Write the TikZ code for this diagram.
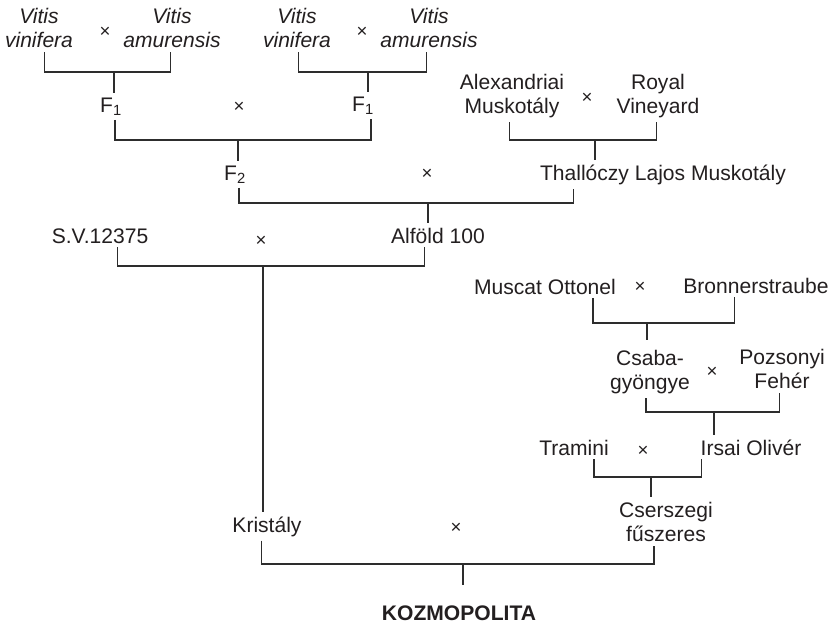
\documentclass[tikz,border=0pt]{standalone}
\usepackage{fontspec}
\setmainfont{Liberation Sans}
\definecolor{ink}{RGB}{35,31,32}
\definecolor{wire}{RGB}{45,45,45}
\begin{document}
\begin{tikzpicture}[x=0.75pt,y=-0.75pt,
  every node/.style={text=ink, inner xsep=0pt, inner ysep=3pt},
  variety/.style={font=\fontsize{15.8}{18.6}\selectfont, anchor=base},
  twoline/.style={variety, text width=110pt, align=center},
  crossmark/.style={font=\fontsize{14}{16}\selectfont, inner sep=0pt},
  link/.style={draw=wire, line width=0.95pt},
]
\path[fill=white, use as bounding box] (0,0) rectangle (832,625);

% ---- varieties (positioned on the first baseline) ----
\node[twoline] (vv1) at (39,23)  {\itshape Vitis\\vinifera};
\node[twoline] (va1) at (172,23) {\itshape Vitis\\amurensis};
\node[twoline] (vv2) at (297,23) {\itshape Vitis\\vinifera};
\node[twoline] (va2) at (429,23) {\itshape Vitis\\amurensis};
\node[variety] (f1a) at (111,112) {F\textsubscript{1}};
\node[variety] (f1b) at (363,111) {F\textsubscript{1}};
\node[twoline] (alex)  at (512,89) {Alexandriai\\Muskotály};
\node[twoline] (royal) at (658,89) {Royal\\Vineyard};
\node[variety] (f2)   at (235,180) {F\textsubscript{2}};
\node[variety] (thal) at (663,180) {Thallóczy Lajos Muskotály};
\node[variety] (sv)   at (100,243) {S.V.12375};
\node[variety] (alf)  at (438,243) {Alföld 100};
\node[variety] (musc) at (545,294) {Muscat Ottonel};
\node[variety] (bron) at (756,293) {Bronnerstraube};
\node[twoline] (csaba) at (650,365) {Csaba-\\gyöngye};
\node[twoline] (pozs)  at (782,364) {Pozsonyi\\Fehér};
\node[variety] (tram)  at (574,455) {Tramini};
\node[variety] (irsai) at (751,455) {Irsai Olivér};
\node[twoline] (cser)  at (666,517) {Cserszegi\\fűszeres};
\node[variety] (krist) at (267,532) {Kristály};
\node[variety] (kozmo) at (459,620) {\bfseries KOZMOPOLITA};

% ---- cross signs ----
\node[crossmark] (c1)  at (105,32)  {×};
\node[crossmark] (c2)  at (362,32)  {×};
\node[crossmark] (c3)  at (239,107) {×};
\node[crossmark] (c4)  at (587,98)  {×};
\node[crossmark] (c5)  at (427,174) {×};
\node[crossmark] (c6)  at (261,241) {×};
\node[crossmark] (c7)  at (640,287) {×};
\node[crossmark] (c8)  at (712,372) {×};
\node[crossmark] (c9)  at (643,451) {×};
\node[crossmark] (c10) at (456,528) {×};

% ---- junctions of the crossing brackets ----
\coordinate (j1)  at (114,72);
\coordinate (j2)  at (368,72);
\coordinate (j3)  at (238,140);
\coordinate (j4)  at (595,140);
\coordinate (j5)  at (428,203);
\coordinate (j6)  at (263,266);
\coordinate (j7)  at (647,323);
\coordinate (j8)  at (714,412);
\coordinate (j9)  at (651,477);
\coordinate (j10) at (463,564);

% ---- brackets: parent, junction, parent; then the stem to the offspring ----
\draw[link] ([xshift=4]vv1.south) |- (j1) -| ([xshift=-1]va1.south);
\draw[link] (j1) -- (j1 |- f1a.north);

\draw[link] ([xshift=1]vv2.south) |- (j2) -| ([xshift=-2]va2.south);
\draw[link] (j2) -- (j2 |- f1b.north);

\draw[link] ([xshift=3]f1a.south) |- (j3) -| ([xshift=6]f1b.south);
\draw[link] (j3) -- (j3 |- f2.north);

\draw[link] ([xshift=-2]alex.south) |- (j4) -| ([xshift=-1]royal.south);
\draw[link] (j4) -- (j4 |- thal.north);

\draw[link] ([xshift=3]f2.south) |- (j5) -| ([xshift=-67]thal.south);
\draw[link] (j5) -- (j5 |- alf.north);

\draw[link] ([xshift=13]sv.south) |- (j6) -| ([xshift=-10]alf.south);
\draw[link] (j6) -- (j6 |- krist.north);

\draw[link] ([xshift=36]musc.south) |- (j7) -| ([xshift=-16]bron.south);
\draw[link, shorten >=4] (j7) -- (j7 |- csaba.north);

\draw[link] ([xshift=-3]csaba.south) |- (j8) -| ([xshift=-2]pozs.south);
\draw[link] (j8) -- (j8 |- irsai.north);

\draw[link] ([xshift=15]tram.south) |- (j9) -| ([xshift=-37]irsai.south);
\draw[link] (j9) -- (j9 |- cser.north);

\draw[link] ([xshift=-4]krist.south) |- (j10) -| ([xshift=-9]cser.south);
\draw[link, shorten >=12] (j10) -- (j10 |- kozmo.north);
\end{tikzpicture}
\end{document}
